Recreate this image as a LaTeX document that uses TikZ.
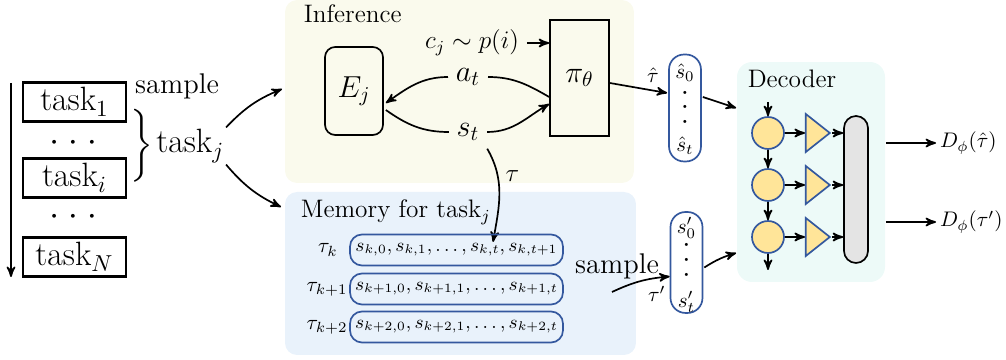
\documentclass[tikz,border=0pt]{standalone}
\usepackage{tikz}
\usepackage{graphicx}
\usepackage{amsmath}
\usetikzlibrary{arrows,positioning,shapes.geometric,calc}
\definecolor{infbg}{RGB}{250,250,237}
\definecolor{membg}{RGB}{233,242,251}
\definecolor{decbg}{RGB}{237,250,248}
\definecolor{seqblue}{RGB}{52,88,158}
\definecolor{cellfill}{RGB}{255,229,153}
\definecolor{barfill}{RGB}{228,228,228}
\newcommand{\smalldot}{\scalebox{0.6}{\tiny$\bullet$}}
\newcommand{\coldots}[1]{\vbox{\baselineskip=#1\lineskiplimit=0pt\hbox{\smalldot}\hbox{\smalldot}\hbox{\smalldot}}}
\newcommand{\rowdot}{\scalebox{0.6}{\scriptsize$\bullet$}}
\newcommand{\rowdots}{\rowdot\hspace{6.5pt}\rowdot\hspace{6.5pt}\rowdot}
\tikzset{
  taskbox/.style={draw, line width=1.1pt, minimum width=1.717cm, minimum height=0.65cm, inner sep=0pt, font=\fontsize{16}{18}\selectfont},
  panel/.style={rounded corners=0.2cm, inner sep=0pt},
  seqbox/.style={draw=seqblue, thick, rounded corners=0.2cm, minimum width=3.55cm, minimum height=0.517cm, inner sep=0pt, font=\small},
  colbox/.style={draw=seqblue, thick, rounded corners=0.25cm, minimum width=0.533cm, inner sep=0pt},
  cell/.style={circle, draw=seqblue, fill=cellfill, minimum size=0.533cm, inner sep=0pt},
  amp/.style={isosceles triangle, isosceles triangle stretches, draw=seqblue, fill=cellfill, minimum width=0.633cm, minimum height=0.4cm, inner sep=0pt},
  bigtext/.style={font=\fontsize{13.5}{16}\selectfont},
  outtext/.style={font=\fontsize{10}{12}\selectfont},
}

\begin{document}
\begin{tikzpicture}[x=0.1667mm, y=0.1667mm, thick, >=stealth']
    \useasboundingbox (0,0) rectangle (1006,360);
    % Panels
    \node[panel, fill=infbg, minimum width=5.817cm, minimum height=3.05cm] (inf) at (459.5,268.5) {};
    \node[panel, fill=membg, minimum width=5.85cm, minimum height=2.717cm] (mem) at (460.5,86.5) {};
    \node[panel, fill=decbg, minimum width=2.467cm, minimum height=3.667cm, rounded corners=0.25cm] (dec) at (811,188) {};

    % Task list
    \coordinate (order top) at (11,277);
    \coordinate (order bot) at (11,83);
    \draw[->] (order top) -- (order bot);
    \node[taskbox] (task1) at (74.5,258) {task$_1$};
    \node (dots1) at (73,218) {\rowdots};
    \node[taskbox] (taski) at (74.5,182) {task$_i$};
    \node (dots2) at (73,144) {\rowdots};
    \node[taskbox] (taskN) at (74.5,103) {task$_N$};
    \node[bigtext] (sample1) at (177,274) {sample};
    \node[font=\Large, inner sep=0pt] (brace) at (141,214) {$\left.\rule[-0.42cm]{0pt}{0.84cm}\right\}$};
    \node[font=\fontsize{16}{18}\selectfont, right=0pt of brace, inner sep=0.5pt] (taskj) {task$_j$};
    \coordinate (inf in) at (282,271);
    \coordinate (mem in) at (281,153);
    \draw[->] (taskj.north east) to[bend left=12] (inf in);
    \draw[->] (taskj.south east) to[bend right=12] (mem in);

    % Inference
    \node[anchor=base west, font=\large] (inflabel) at (296,337) {Inference};
    \node[draw, rounded corners=0.17cm, minimum width=0.967cm, minimum height=1.467cm, font=\Large] (E) at (354,269) {$E_j$};
    \node[draw, minimum width=0.983cm, minimum height=1.933cm, font=\Large] (pi) at (579.5,282) {$\pi_\theta$};
    \node[font=\large] (cj) at (472,317) {$c_j\sim p(i)$};
    \draw[->] (cj.east) -- (cj.east -| pi.west);
    \node[font=\Large] (a) at (468,283) {$a_t$};
    \node[font=\Large] (s) at (468,228) {$s_t$};
    \draw ($(pi.west)+(0,-19)$) to[out=150,in=0] (a.east);
    \draw[->] (a.west) to[out=180,in=35] ($(E.east)+(2,-12)$);
    \draw ($(E.east)+(2,-19)$) to[out=-35,in=180] (s.west);
    \draw[->] (s.east) to[out=0,in=-150] ($(pi.west)+(0,-26)$);
    \coordinate (mem hit) at (493,118);
    \draw[->] (s.south east) to[out=-60,in=80] node[pos=0.3,right,font=\large] {$\tau$} (mem hit);

    % Memory
    \node[anchor=base west, font=\large] (memlabel) at (293,142) {Memory for task$_j$};
    \node[seqbox] (row1) at (456.5,110) {$s_{k,0},s_{k,1},\ldots,s_{k,t},s_{k,t+1}$};
    \node[seqbox] (row2) at (456.5,71) {$s_{k+1,0},s_{k+1,1},\ldots,s_{k+1,t}$};
    \node[seqbox] (row3) at (456.5,33) {$s_{k+2,0},s_{k+2,1},\ldots,s_{k+2,t}$};
    \node[inner sep=0pt] (tau1) at (328,110) {$\tau_k$};
    \node[inner sep=0pt] (tau2) at (327,71) {$\tau_{k+1}$};
    \node[inner sep=0pt] (tau3) at (327,33) {$\tau_{k+2}$};

    % Sequences
    \node[colbox, minimum height=1.783cm] (col1) at (685,252) {};
    \node (s0h) at (685,287) {$\hat{s}_0$};
    \node (dh) at (685,253) {\coldots{6.9pt}};
    \node (sth) at (685,214) {$\hat{s}_t$};
    \node[colbox, minimum height=1.683cm] (col2) at (686.5,97.5) {};
    \node (s0p) at (686.5,132) {$s'_0$};
    \node (dp) at (686.5,100) {\coldots{7.1pt}};
    \node (stp) at (686.5,58) {$s'_t$};
    \draw[->] ($(pi.east)+(0,-5)$) -- node[above, pos=0.75] {$\hat\tau$} ($(col1.west)+(-1,15)$);
    \draw[->] ($(col1.east)+(1,11)$) -- ($(dec.west)+(0,64)$);
    \coordinate (mem out) at (612,68);
    \node[bigtext] (sample2) at (617,94) {sample};
    \draw[->] (mem out) to[bend left=10] node[below, pos=0.8] {$\tau'$} ($(col2.west)+(0,-14)$);
    \draw[->] ($(col2.east)+(1,-5)$) to[bend left=8] ($(dec.west)+(0,-81)$);

    % Decoder
    \node[anchor=base, font=\large] (declabel) at (792,272) {Decoder};
    \node[draw, fill=barfill, rounded corners=0.2cm, minimum width=0.4cm, minimum height=2.45cm] (bar) at (856,170.5) {};
    \foreach \i/\yy in {1/227,2/175,3/123} {
      \node[cell] (cell\i) at (768,\yy) {};
      \node[amp] (amp\i) at (815,\yy) {};
      \draw[->] (cell\i) -- (amp\i);
      \draw[->] (amp\i.apex) -- (amp\i.apex -| bar.west);
    }
    \coordinate (dec top) at (768,258);
    \coordinate (dec bot) at (768,90);
    \draw[->] (dec top) -- (cell1);
    \draw[->] (cell1) -- (cell2);
    \draw[->] (cell2) -- (cell3);
    \draw[->] (cell3) -- (dec bot);
    \node[anchor=west, outtext, inner sep=1.5pt] (out1) at (936,217) {$D_\phi(\hat\tau)$};
    \node[anchor=west, outtext, inner sep=1.5pt] (out2) at (936,138) {$D_\phi(\tau')$};
    \draw[->] (dec.east |- out1) -- (out1.west);
    \draw[->] (dec.east |- out2) -- (out2.west);
\end{tikzpicture}
\end{document}
